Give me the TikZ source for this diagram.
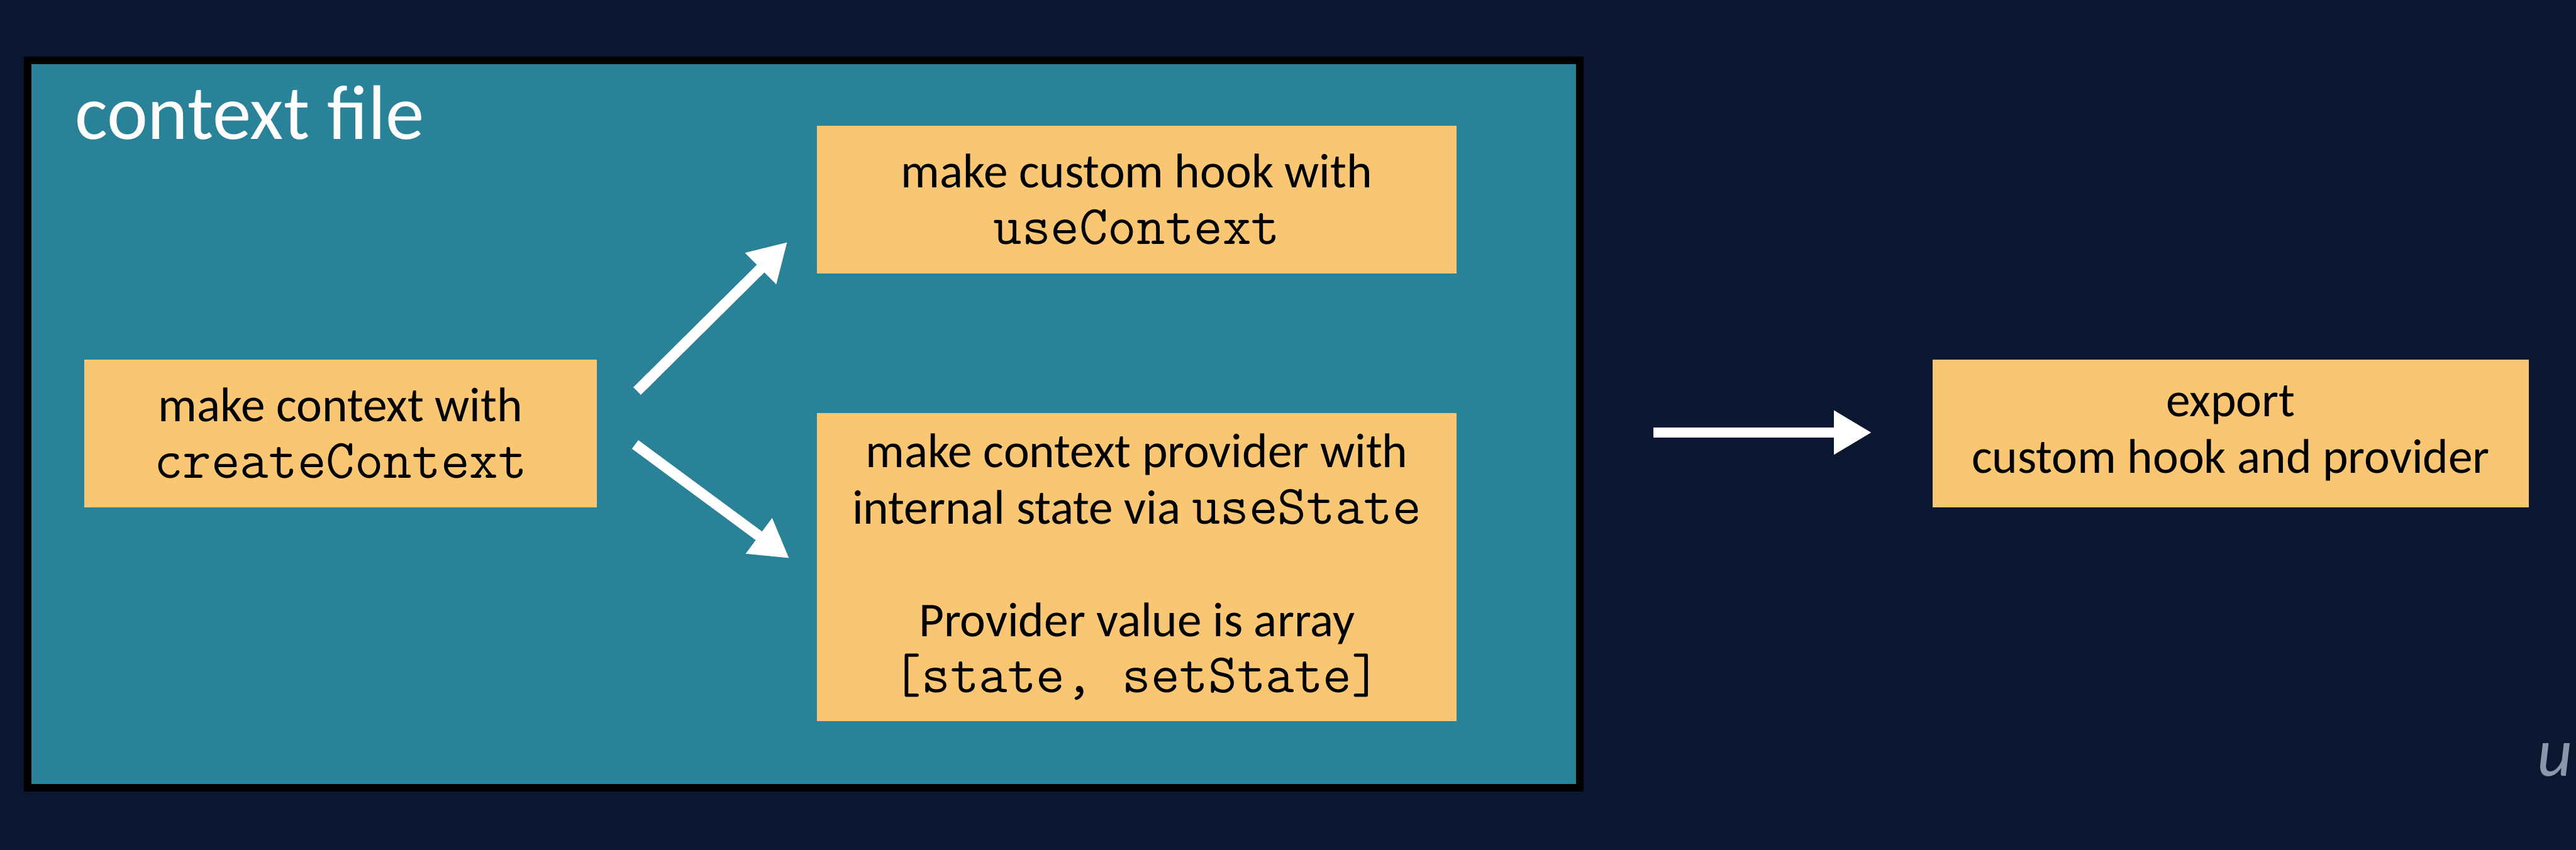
\documentclass[tikz,border=0pt]{standalone}
\usepackage{fontspec}
\setmainfont{Carlito}
\usetikzlibrary{arrows.meta}
\definecolor{navybg}{RGB}{11,23,48}
\definecolor{filebg}{RGB}{42,130,153}
\definecolor{cardfill}{RGB}{249,198,115}
\definecolor{markgray}{RGB}{140,150,170}
\newcommand{\mono}[1]{{\ttfamily\fontsize{25.2}{25.5}\selectfont #1}}

\begin{document}
\begin{tikzpicture}[line width=0.6pt,
  card/.style={fill=cardfill, align=center, text=black, inner sep=0pt,
    font=\fontsize{22}{25.5}\selectfont},
  flow/.style={draw=white, line width=4.8pt, -{Triangle[length=0.6cm, width=0.66cm]}}]
  \useasboundingbox (0,0) rectangle (40.96,13.52);
  \fill[navybg] (0,0) rectangle (40.96,13.52);
  % context file frame
  \draw[fill=filebg, draw=black, line width=3.4pt] (0.44,0.99) rectangle (25.12,12.56);
  \node[anchor=base west, inner sep=0pt, text=white, font=\fontsize{35}{40}\selectfont] (title) at (1.18,11.30) {context file};
  % steps
  \node[card, minimum width=8.15cm, minimum height=2.35cm] (ctx) at (5.415,6.625) {make context with\\\mono{createContext}};
  \node[card, minimum width=10.17cm, minimum height=2.35cm] (hook) at (18.075,10.345) {make custom hook with\\\mono{useContext}};
  \node[card, minimum width=10.17cm, minimum height=4.90cm] (prov) at (18.075,4.50) {make context provider with\\internal state via \mono{useState}\\[25.5pt]Provider value is array\\\mono{[state, setState]}};
  \node[card, minimum width=9.48cm, minimum height=2.35cm] (export) at (35.47,6.625) {export\\custom hook and provider};
  % arrows
  \coordinate (a1) at (10.13,7.30);
  \coordinate (b1) at (12.52,9.67);
  \coordinate (a2) at (10.10,6.45);
  \coordinate (b2) at (12.55,4.64);
  \coordinate (a3) at (26.29,6.64);
  \coordinate (b3) at (29.76,6.64);
  \draw[flow] (a1) -- (b1);
  \draw[flow] (a2) -- (b2);
  \draw[flow] (a3) -- (b3);
  \node[anchor=base west, inner sep=0pt, text=markgray, font=\fontsize{31}{36}\selectfont\itshape] (mark) at (40.33,1.17) {u};
\end{tikzpicture}
\end{document}
